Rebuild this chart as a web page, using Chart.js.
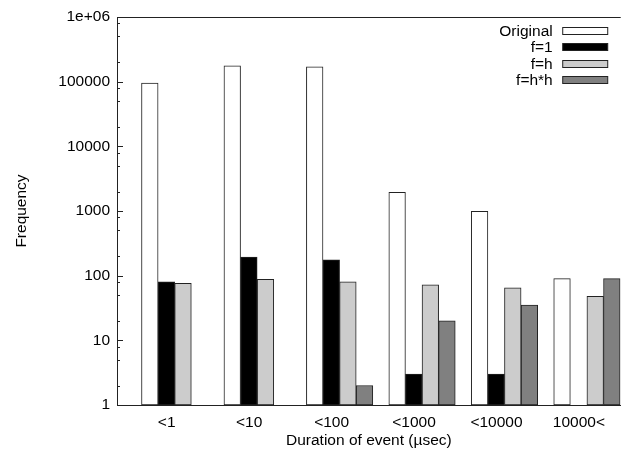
<!DOCTYPE html>
<html>
<head>
<meta charset="utf-8">
<script src="https://cdn.jsdelivr.net/npm/chart.js@4/dist/chart.umd.min.js"></script>
<style>
  html, body { margin: 0; padding: 0; background: #fff; }
  #wrap { width: 621px; height: 454px; position: relative; }
</style>
</head>
<body>
<div id="wrap"><canvas id="chart"></canvas></div>
<script>
// --- Data ---
const categories = ['<1', '<10', '<100', '<1000', '<10000', '10000<'];
const original = [95000, 175000, 170000, 1950, 990, 90];
const fOne = [80, 194, 175, 3, 3, null];
const fH = [76, 88, 80, 72, 65, 48];
const fHH = [null, null, 2, 20, 35, 90];
const yTicks = [1, 10, 100, 1000, 10000, 100000, 1000000];
const minorFactors = [2, 5, 8];

const FONT = { family: "'Liberation Sans', Arial, sans-serif", size: 15.5 };

function toPoints(values) {
    return values.map((v, i) => ({ x: i, y: v }));
}

function makeSet(label, values, fill) {
    return {
        label: label,
        data: toPoints(values),
        backgroundColor: fill,
        borderColor: '#222',
        borderWidth: 1,
        borderSkipped: false,
        barThickness: 16.6
    };
}

// frame top line, inward tick marks and the legend box on the right
const decorPlugin = {
    id: 'decor',
    afterDraw(chart) {
        const ctx = chart.ctx;
        const area = chart.chartArea;
        const y = chart.scales.y;
        ctx.save();
        ctx.strokeStyle = '#222';
        ctx.lineWidth = 1;
        ctx.beginPath();
        ctx.moveTo(area.left, area.top + 0.5);
        ctx.lineTo(area.right, area.top + 0.5);
        ctx.stroke();

        // major + minor ticks pointing into the plot
        ctx.beginPath();
        yTicks.forEach((t, k) => {
            const py = Math.round(y.getPixelForValue(t)) + 0.5;
            ctx.moveTo(area.left, py);
            ctx.lineTo(area.left + 6, py);
            if (k < yTicks.length - 1) {
                minorFactors.forEach(f => {
                    const my = Math.round(y.getPixelForValue(t * f)) + 0.5;
                    ctx.moveTo(area.left, my);
                    ctx.lineTo(area.left + 3, my);
                });
            }
        });
        ctx.stroke();

        // legend
        ctx.font = FONT.size + 'px ' + FONT.family;
        ctx.textAlign = 'right';
        ctx.textBaseline = 'middle';
        ctx.fillStyle = '#000';
        chart.data.datasets.forEach((ds, i) => {
            const cy = area.top + 14 + i * 16.4;
            const boxRight = area.right - 13;
            ctx.fillText(ds.label, boxRight - 55, cy + 0.5);
            ctx.fillStyle = ds.backgroundColor;
            ctx.fillRect(boxRight - 45, Math.round(cy) - 3.5, 45, 7);
            ctx.strokeRect(boxRight - 45, Math.round(cy) - 3.5, 45, 7);
            ctx.fillStyle = '#000';
        });
        ctx.restore();
    }
};

const ctx = document.getElementById('chart').getContext('2d');
new Chart(ctx, {
    type: 'bar',
    data: {
        datasets: [
            makeSet('Original', original, '#ffffff'),
            makeSet('f=1', fOne, '#000000'),
            makeSet('f=h', fH, '#cccccc'),
            makeSet('f=h*h', fHH, '#808080')
        ]
    },
    options: {
        responsive: true, maintainAspectRatio: false,
        animation: false,
        layout: { padding: { top: 17, right: 0, left: 0, bottom: 0 } },
        plugins: {
            legend: { display: false },
            tooltip: { enabled: false }
        },
        scales: {
            x: {
                type: 'linear',
                offset: false,
                min: -0.7,
                max: 5.41,
                grid: { display: false, drawTicks: false, offset: false },
                border: { display: true, color: '#222', width: 1 },
                afterBuildTicks: (scale) => {
                    scale.ticks = categories.map((c, i) => ({ value: i }));
                },
                afterFit: (scale) => { scale.height = 49; },
                ticks: {
                    color: '#000',
                    font: FONT,
                    padding: 8,
                    labelOffset: -8,
                    maxRotation: 0,
                    autoSkip: false,
                    callback: (v) => categories[v]
                },
                title: {
                    display: true,
                    text: 'Duration of event (\u00b5sec)',
                    color: '#000',
                    font: FONT,
                    padding: { top: 0, bottom: 4 }
                }
            },
            y: {
                type: 'logarithmic',
                min: 1,
                max: 1000000,
                grid: { display: false, drawTicks: false },
                border: { display: true, color: '#222', width: 1 },
                afterBuildTicks: (scale) => {
                    scale.ticks = yTicks.map(v => ({ value: v }));
                },
                afterFit: (scale) => { scale.width = 117; },
                ticks: {
                    color: '#000',
                    font: FONT,
                    padding: 7,
                    callback: (v) => v === 1000000 ? '1e+06' : String(v)
                },
                title: {
                    display: true,
                    text: 'Frequency',
                    color: '#000',
                    font: FONT,
                    padding: { top: 12, bottom: 0 }
                }
            }
        }
    },
    plugins: [decorPlugin]
});
</script>
</body>
</html>
